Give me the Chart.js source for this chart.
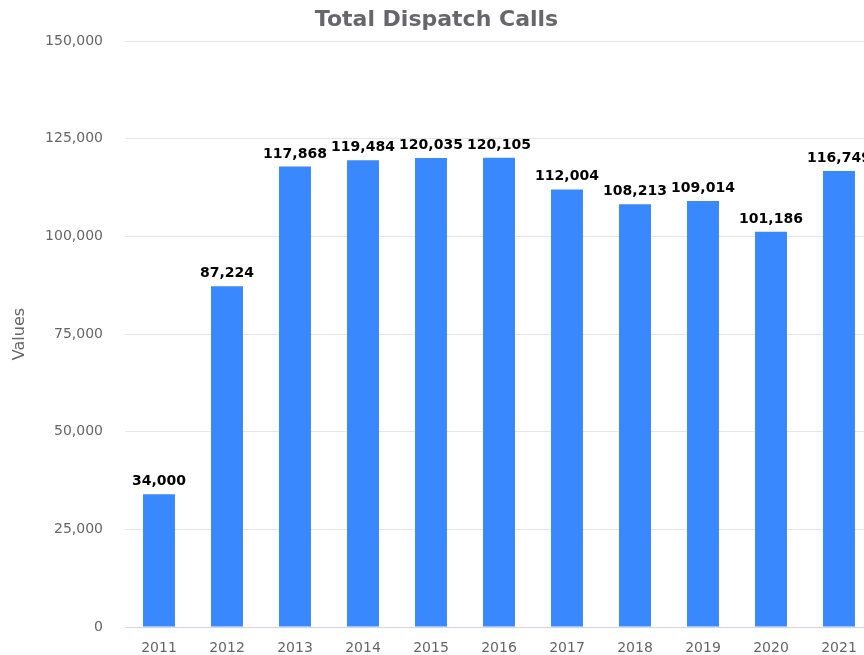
<!DOCTYPE html>
<html>
<head>
<meta charset="utf-8">
<script src="https://cdn.jsdelivr.net/npm/chart.js@4/dist/chart.umd.min.js"></script>
<style>
  html, body { margin: 0; padding: 0; background: #fff; overflow: hidden; }
  #wrap { position: relative; width: 876px; height: 655px; }
</style>
</head>
<body>
<div id="wrap"><canvas id="calls"></canvas></div>
<script>
const years = ['2011', '2012', '2013', '2014', '2015', '2016', '2017', '2018', '2019', '2020', '2021'];
const dispatchCalls = [34000, 87224, 117868, 119484, 120035, 120105, 112004, 108213, 109014, 101186, 116749];
const yTicks = [0, 25000, 50000, 75000, 100000, 125000, 150000];

const FONT = "'DejaVu Sans', sans-serif";
const fmt = v => v.toLocaleString('en-US');

// value labels above each bar
const barLabels = {
  id: 'barLabels',
  afterDatasetsDraw(chart) {
    const ctx = chart.ctx;
    const meta = chart.getDatasetMeta(0);
    ctx.save();
    ctx.font = 'bold 14px ' + FONT;
    ctx.fillStyle = '#000';
    ctx.textAlign = 'center';
    ctx.textBaseline = 'alphabetic';
    meta.data.forEach((bar, i) => {
      ctx.fillText(fmt(chart.data.datasets[0].data[i]), bar.x, bar.y - 9);
    });
    ctx.restore();
  }
};

new Chart(document.getElementById('calls'), {
  type: 'bar',
  data: {
    labels: years,
    datasets: [{
      label: 'Total Dispatch Calls',
      data: dispatchCalls,
      backgroundColor: '#3a88fe',
      borderWidth: 0,
      categoryPercentage: 1,
      barPercentage: 0.47
    }]
  },
  options: {
    responsive: true,
    maintainAspectRatio: false,
    animation: false,
    layout: { padding: { left: 0, right: 3, top: 0, bottom: 0 } },
    scales: {
      x: {
        grid: { display: false, drawTicks: false },
        border: { display: true, color: '#ccd6eb', width: 1 },
        ticks: { color: '#666', font: { family: FONT, size: 14 }, padding: 13, maxRotation: 0 },
        afterFit(scale) { scale.height = 28; }
      },
      y: {
        min: 0,
        max: 150000,
        afterBuildTicks(scale) { scale.ticks = yTicks.map(v => ({ value: v })); },
        grid: { color: '#e6e6e6', drawTicks: false },
        border: { display: false },
        ticks: { color: '#666', font: { family: FONT, size: 14 }, padding: 22, callback: v => fmt(v) },
        title: { display: true, text: 'Values', color: '#666', font: { family: FONT, size: 16 }, padding: { top: 10, bottom: 0 } },
        afterFit(scale) {
          scale.width = 125;
          // the tick padding would otherwise push the plot bottom up
          scale.paddingTop = 10;
          scale.paddingBottom = 10;
        }
      }
    },
    plugins: {
      legend: { display: false },
      tooltip: { enabled: false },
      title: {
        display: true,
        text: 'Total Dispatch Calls',
        color: '#66666b',
        font: { family: FONT, size: 22, weight: 'bold' },
        padding: { top: 7, bottom: 7.6 }
      }
    }
  },
  plugins: [barLabels]
});
</script>
</body>
</html>
